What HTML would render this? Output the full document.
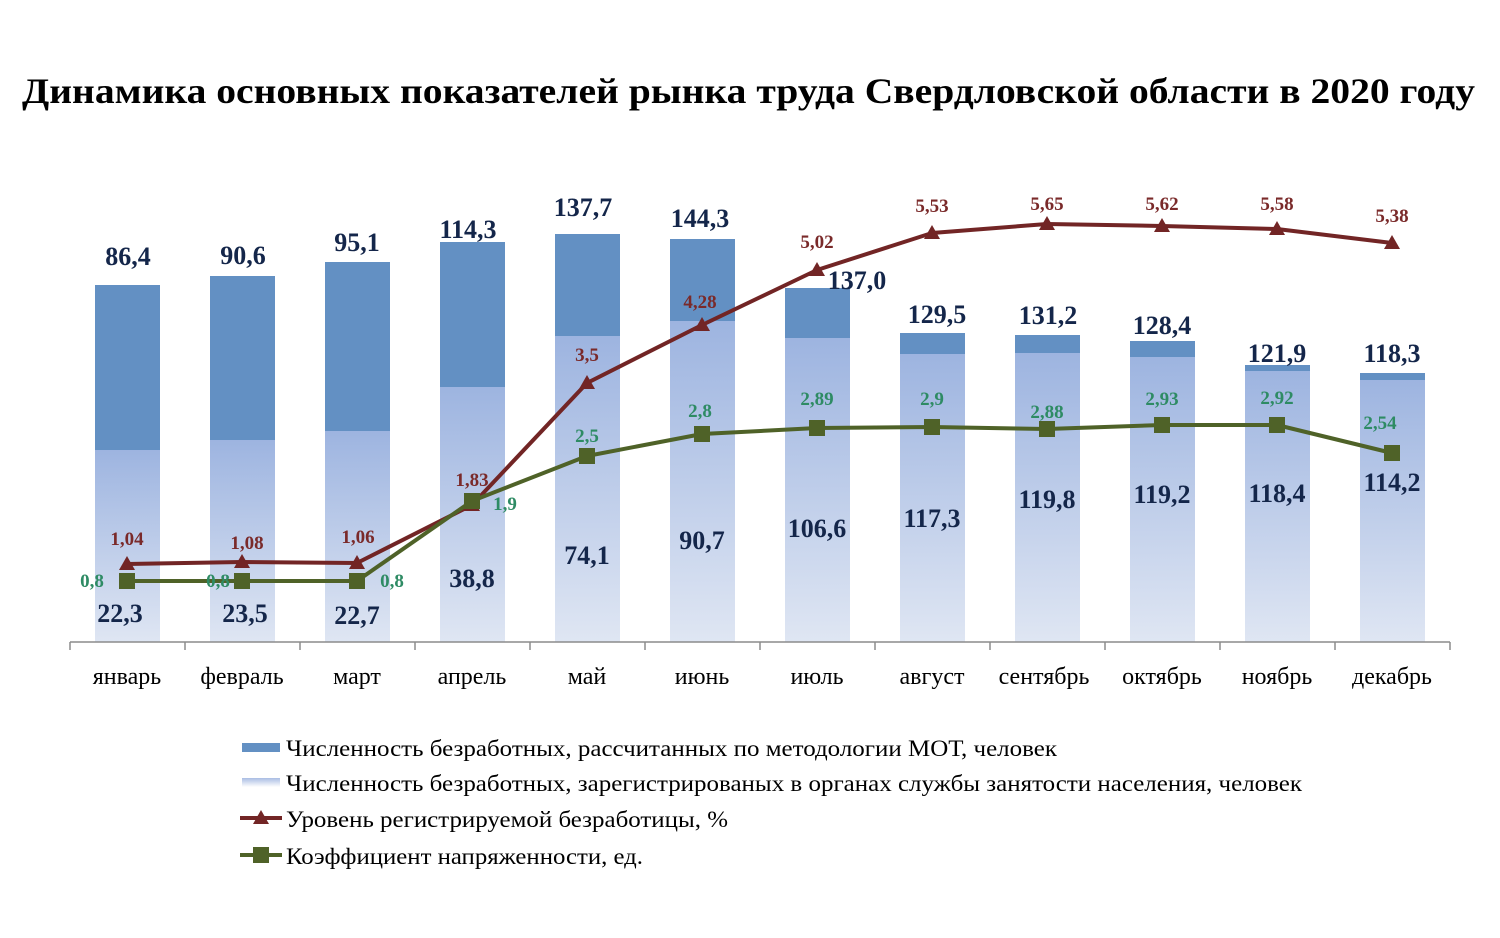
<!DOCTYPE html>
<html><head><meta charset="utf-8"><style>
html,body{margin:0;padding:0;background:#fff;}
svg{display:block;}
</style></head><body>
<svg width="1500" height="938" viewBox="0 0 1500 938" xmlns="http://www.w3.org/2000/svg" font-family="'Liberation Serif', 'Noto Serif CJK SC', serif">
<defs>
<linearGradient id="lg" x1="0" y1="0" x2="0" y2="1">
<stop offset="0" stop-color="#9db4e0"/><stop offset="1" stop-color="#dfe6f3"/>
</linearGradient>
<linearGradient id="lgl" x1="0" y1="0" x2="0" y2="1">
<stop offset="0" stop-color="#a9bde4"/><stop offset="1" stop-color="#ffffff"/>
</linearGradient>
</defs>
<text x="22" y="103" font-size="36" font-weight="bold" textLength="1453" lengthAdjust="spacingAndGlyphs">Динамика основных показателей рынка труда Свердловской области в 2020 году</text>

<g id="bars">
<rect x="95" y="285" width="65" height="165" fill="#6390c3"/><rect x="95" y="450" width="65" height="192" fill="url(#lg)"/>
<rect x="210" y="276" width="65" height="164" fill="#6390c3"/><rect x="210" y="440" width="65" height="202" fill="url(#lg)"/>
<rect x="325" y="262" width="65" height="169" fill="#6390c3"/><rect x="325" y="431" width="65" height="211" fill="url(#lg)"/>
<rect x="440" y="242" width="65" height="145" fill="#6390c3"/><rect x="440" y="387" width="65" height="255" fill="url(#lg)"/>
<rect x="555" y="234" width="65" height="102" fill="#6390c3"/><rect x="555" y="336" width="65" height="306" fill="url(#lg)"/>
<rect x="670" y="239" width="65" height="82" fill="#6390c3"/><rect x="670" y="321" width="65" height="321" fill="url(#lg)"/>
<rect x="785" y="288" width="65" height="50" fill="#6390c3"/><rect x="785" y="338" width="65" height="304" fill="url(#lg)"/>
<rect x="900" y="333" width="65" height="21" fill="#6390c3"/><rect x="900" y="354" width="65" height="288" fill="url(#lg)"/>
<rect x="1015" y="335" width="65" height="18" fill="#6390c3"/><rect x="1015" y="353" width="65" height="289" fill="url(#lg)"/>
<rect x="1130" y="341" width="65" height="16" fill="#6390c3"/><rect x="1130" y="357" width="65" height="285" fill="url(#lg)"/>
<rect x="1245" y="365" width="65" height="6" fill="#6390c3"/><rect x="1245" y="371" width="65" height="271" fill="url(#lg)"/>
<rect x="1360" y="373" width="65" height="7" fill="#6390c3"/><rect x="1360" y="380" width="65" height="262" fill="url(#lg)"/>
</g>

<g stroke="#8c8c8c" stroke-width="1.5">
<line x1="70" y1="642" x2="1450" y2="642"/>
<line x1="70" y1="642" x2="70" y2="650"/><line x1="185" y1="642" x2="185" y2="650"/><line x1="300" y1="642" x2="300" y2="650"/><line x1="415" y1="642" x2="415" y2="650"/><line x1="530" y1="642" x2="530" y2="650"/><line x1="645" y1="642" x2="645" y2="650"/><line x1="760" y1="642" x2="760" y2="650"/><line x1="875" y1="642" x2="875" y2="650"/><line x1="990" y1="642" x2="990" y2="650"/><line x1="1105" y1="642" x2="1105" y2="650"/><line x1="1220" y1="642" x2="1220" y2="650"/><line x1="1335" y1="642" x2="1335" y2="650"/><line x1="1450" y1="642" x2="1450" y2="650"/>
</g>

<g font-size="24" text-anchor="middle" fill="#000">
<text x="127" y="684">январь</text><text x="242" y="684">февраль</text><text x="357" y="684">март</text><text x="472" y="684">апрель</text><text x="587" y="684">май</text><text x="702" y="684">июнь</text><text x="817" y="684">июль</text><text x="932" y="684">август</text><text x="1044" y="684">сентябрь</text><text x="1162" y="684">октябрь</text><text x="1277" y="684">ноябрь</text><text x="1392" y="684">декабрь</text>
</g>

<polyline fill="none" stroke="#722525" stroke-width="4" stroke-linejoin="round" points="127,564 242,562 357,563 472,505 587,383 702,325 817,270 932,233 1047,224 1162,226 1277,229 1392,243"/>
<g fill="#722525">
<polygon points="127,556 119,570 135,570"/><polygon points="242,554 234,568 250,568"/><polygon points="357,555 349,569 365,569"/><polygon points="472,497 464,511 480,511"/><polygon points="587,375 579,389 595,389"/><polygon points="702,317 694,331 710,331"/><polygon points="817,262 809,276 825,276"/><polygon points="932,225 924,239 940,239"/><polygon points="1047,216 1039,230 1055,230"/><polygon points="1162,218 1154,232 1170,232"/><polygon points="1277,221 1269,235 1285,235"/><polygon points="1392,235 1384,249 1400,249"/>
</g>

<polyline fill="none" stroke="#4f6228" stroke-width="4" stroke-linejoin="round" points="127,581 242,581 357,581 472,501 587,456 702,434 817,428 932,427 1047,429 1162,425 1277,425 1392,453"/>
<g fill="#4f6228">
<rect x="119" y="573" width="16" height="16"/><rect x="234" y="573" width="16" height="16"/><rect x="349" y="573" width="16" height="16"/><rect x="464" y="493" width="16" height="16"/><rect x="579" y="448" width="16" height="16"/><rect x="694" y="426" width="16" height="16"/><rect x="809" y="420" width="16" height="16"/><rect x="924" y="419" width="16" height="16"/><rect x="1039" y="421" width="16" height="16"/><rect x="1154" y="417" width="16" height="16"/><rect x="1269" y="417" width="16" height="16"/><rect x="1384" y="445" width="16" height="16"/>
</g>

<g font-size="26" font-weight="bold" fill="#14264a" text-anchor="middle">
<text x="128" y="265">86,4</text><text x="243" y="264">90,6</text><text x="357" y="251">95,1</text><text x="468" y="238">114,3</text><text x="583" y="216">137,7</text><text x="700" y="227">144,3</text><text x="857" y="289">137,0</text><text x="937" y="323">129,5</text><text x="1048" y="324">131,2</text><text x="1162" y="334">128,4</text><text x="1277" y="362">121,9</text><text x="1392" y="362">118,3</text>
<text x="120" y="622">22,3</text><text x="245" y="622">23,5</text><text x="357" y="624">22,7</text><text x="472" y="587">38,8</text><text x="587" y="564">74,1</text><text x="702" y="549">90,7</text><text x="817" y="537">106,6</text><text x="932" y="527">117,3</text><text x="1047" y="508">119,8</text><text x="1162" y="503">119,2</text><text x="1277" y="502">118,4</text><text x="1392" y="491">114,2</text>
</g>

<g font-size="19" font-weight="bold" fill="#7a2a2a" text-anchor="middle">
<text x="127" y="545">1,04</text><text x="247" y="549">1,08</text><text x="358" y="543">1,06</text><text x="472" y="486">1,83</text><text x="587" y="361">3,5</text><text x="700" y="308">4,28</text><text x="817" y="248">5,02</text><text x="932" y="212">5,53</text><text x="1047" y="210">5,65</text><text x="1162" y="210">5,62</text><text x="1277" y="210">5,58</text><text x="1392" y="222">5,38</text>
</g>

<g font-size="19" font-weight="bold" fill="#2e8b64" text-anchor="middle">
<text x="92" y="587">0,8</text><text x="218" y="587">0,8</text><text x="392" y="587">0,8</text><text x="505" y="510">1,9</text><text x="587" y="442">2,5</text><text x="700" y="417">2,8</text><text x="817" y="405">2,89</text><text x="932" y="405">2,9</text><text x="1047" y="418">2,88</text><text x="1162" y="405">2,93</text><text x="1277" y="404">2,92</text><text x="1380" y="429">2,54</text>
</g>

<rect x="242" y="743" width="38" height="9" fill="#6390c3"/>
<rect x="242" y="778" width="38" height="9" fill="url(#lgl)"/>
<line x1="240" y1="818" x2="282" y2="818" stroke="#722525" stroke-width="4"/>
<polygon points="261,810 253,824 269,824" fill="#722525"/>
<line x1="240" y1="855" x2="282" y2="855" stroke="#4f6228" stroke-width="4"/>
<rect x="253" y="847" width="16" height="16" fill="#4f6228"/>
<g font-size="23" fill="#000">
<text x="286" y="756" textLength="771" lengthAdjust="spacingAndGlyphs">Численность безработных, рассчитанных по методологии МОТ, человек</text>
<text x="286" y="791" textLength="1016" lengthAdjust="spacingAndGlyphs">Численность безработных, зарегистрированых в органах службы занятости населения, человек</text>
<text x="286" y="827" textLength="442" lengthAdjust="spacingAndGlyphs">Уровень регистрируемой безработицы, %</text>
<text x="286" y="864" textLength="357" lengthAdjust="spacingAndGlyphs">Коэффициент напряженности, ед.</text>
</g>
</svg>
</body></html>
